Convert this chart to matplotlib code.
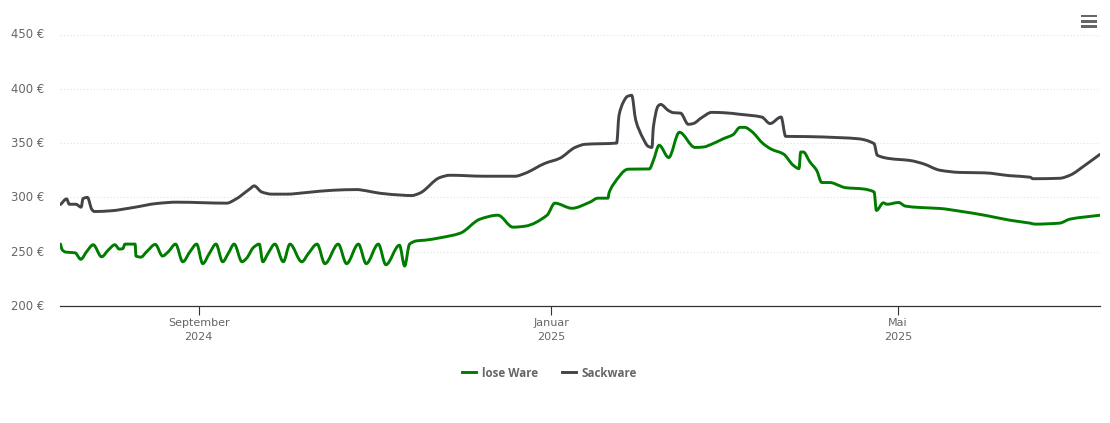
import datetime as dt

import matplotlib
matplotlib.use("Agg")
import matplotlib.pyplot as plt
import matplotlib.dates as mdates
from matplotlib.lines import Line2D
from matplotlib.patches import PathPatch, Rectangle
from matplotlib.path import Path
from matplotlib.transforms import ScaledTranslation
import numpy as np

START = dt.date(2024, 7, 15)

# days since START, price in euro
lose_days = [0.2, 0.7, 2, 5.2, 7.2, 9.2, 11.5, 14.4, 16.7, 19, 20.5, 21.7, 22.5, 26, 26.3, 28,
             30, 33, 35.5, 37.5, 40, 42.5, 45, 47.3, 49.4, 51.7, 54, 56.3, 58.3, 60.3, 63,
             64.6, 67, 69, 70.2, 72, 74.4, 77.3, 79.6, 83.7, 86, 89, 91.7, 96.3, 99.2, 103.3,
             106, 110.2, 112.8, 117.5, 119.3, 121, 123.5, 126.3, 131.5, 138.5, 145.4, 151.6,
             156.8, 161, 168.6, 171.3, 177.2, 183.4, 186.2, 189.7, 190, 191.5, 196.7, 204,
             205.4, 207.4, 210.7, 214.4, 219.8, 222.7, 226, 229.6, 233, 235.4, 237, 239.4,
             243.4, 246.3, 250.4, 253.8, 255.8, 256.4, 257.3, 259.6, 261.9, 263.7, 266.5, 270,
             271.7, 278, 281.8, 282.6, 285, 286.3, 290.3, 292.6, 297.7, 304.6, 311.5, 320,
             328.8, 335.8, 337.5, 346, 349.6, 360]
lose_price = [257, 252, 249.6, 249, 243, 250, 256.4, 245.3, 251.5, 256.4, 252.4, 252.7, 257, 257, 246, 245,
              250, 256.7, 246, 250, 257, 240.7, 250, 257, 239, 248.4, 257, 240.7, 248.7, 257, 240.7,
              244, 254, 257, 240.7, 248.4, 257, 240.7, 257, 240.7, 248.4, 257, 239, 257, 239, 257,
              239, 257, 238, 256, 236.8, 257, 260, 260.6, 262.8, 267, 280, 283.6,
              272.6, 273.5, 283.6, 294.7, 290, 295.6, 299.3, 299.3, 303.6, 311.8, 326, 326.2,
              334, 348, 336.7, 360, 346, 346.4, 349.5, 354, 357.8, 364.5, 364.5, 360.8,
              349.5, 344.3, 340, 329.6, 326.5, 341.8, 341.8, 332.6, 325, 313.7, 313.7, 310.6,
              309, 307.8, 305, 288, 295, 293.7, 295.3, 292, 290.7, 289.8, 287.3, 283.6,
              279, 276.3, 275.4, 276.3, 280, 283.6]

sack_days = [0.2, 2.3, 3.2, 5.5, 7.3, 8, 9.5, 11, 11.9, 17.3, 25.4, 33.5, 40.4, 57.7, 60.6, 65.8,
             67.2, 69.8, 73.3, 78.5, 85.4, 94.6, 102.7, 106.2, 110.8, 118.8, 121.7, 124.6, 131.5,
             135, 147, 157.5, 161, 167.9, 173, 178.3, 181.8, 192.7, 193.5, 195, 196.4, 197.9,
             199.3, 201.9, 203.6, 204.9, 205.4, 207, 207.9, 210.6, 212.3, 214.8, 217.5, 219.2,
             222.1, 225.6, 229.6, 235.4, 242.9, 245.8, 249.6, 251.2, 258.5, 270, 276.3, 281.8,
             282.9, 287.3, 294.2, 298.8, 304.6, 311.5, 320, 328.8, 335.8, 336.8, 346, 349.6, 354.8, 360]
sack_price = [293.5, 298.6, 293.7, 293.7, 291, 299, 300, 289, 287, 287.6, 290.7, 294.4, 295.6, 294.7, 298, 308,
              310.6, 305, 303, 303, 304.5, 306.6, 307.2, 306, 303.8, 302, 301.7, 304, 318.3,
              320.4, 319.5, 319.5, 322.2, 331.4, 336, 346, 348.9, 350, 375.5, 387.7, 393, 394,
              371, 354, 347, 346, 364.8, 384, 385.6, 380, 378, 377.6, 367.3, 368,
              373.4, 378.3, 378, 376.5, 374, 368, 374, 356.2, 356, 355, 354, 349.5,
              338.8, 335.7, 334, 331, 325, 323, 322.6, 320, 318.6, 317.2, 317.6, 320.4, 329.6, 339.7]

y_ticks = [200, 250, 300, 350, 400, 450]
x_ticks = [dt.date(2024, 9, 1), dt.date(2025, 1, 1), dt.date(2025, 5, 1)]
x_labels = ["September\n2024", "Januar\n2025", "Mai\n2025"]

GREEN = "#007d00"
GREY = "#434348"


def to_dates(days):
    return [mdates.date2num(START) + d for d in days]


def spline_path(x, y):
    # bezier segments through the points, flat at each peak so it does not overshoot
    x, y = np.array(x), np.array(y)
    dx = np.diff(x)
    s = np.diff(y) / dx
    m = np.zeros(len(x))
    m[0], m[-1] = s[0], s[-1]
    for i in range(1, len(x) - 1):
        if s[i - 1] * s[i] > 0:
            m[i] = 2 * s[i - 1] * s[i] / (s[i - 1] + s[i])
    verts = [(x[0], y[0])]
    codes = [Path.MOVETO]
    for i in range(len(dx)):
        verts.append((x[i] + dx[i] / 3, y[i] + m[i] * dx[i] / 3))
        verts.append((x[i + 1] - dx[i] / 3, y[i + 1] - m[i + 1] * dx[i] / 3))
        verts.append((x[i + 1], y[i + 1]))
        codes += [Path.CURVE4] * 3
    return Path(verts, codes)


W, H = 1110, 423
fig = plt.figure(figsize=(W / 100, H / 100), dpi=100)
ax = fig.add_axes([60 / W, 1 - 306 / H, 1040 / W, (306 - 34.5) / H])

ax.add_patch(PathPatch(spline_path(to_dates(lose_days), lose_price), fill=False, edgecolor=GREEN, lw=2.1,
                       joinstyle="round", capstyle="round"))
ax.add_patch(PathPatch(spline_path(to_dates(sack_days), sack_price), fill=False, edgecolor=GREY, lw=2.1,
                       joinstyle="round", capstyle="round"))

ax.set_xlim(mdates.date2num(START), mdates.date2num(START) + 360)
ax.set_ylim(200, 450)
ax.set_yticks(y_ticks)
ax.set_yticklabels([f"{v} €" for v in y_ticks])
ax.set_xticks([mdates.date2num(d) for d in x_ticks])
ax.set_xticklabels(x_labels, linespacing=1.55)

for s in ["top", "left", "right"]:
    ax.spines[s].set_visible(False)
ax.spines["bottom"].set_color("#333333")
ax.spines["bottom"].set_linewidth(0.9)

ax.grid(axis="y", color="#e0e0e0", lw=0.8, ls=(0, (1, 2)))
ax.set_axisbelow(True)
ax.tick_params(axis="y", length=0, pad=11, labelsize=8.4, labelcolor="#666666")
ax.tick_params(axis="x", length=6.8, width=0.8, color="#333333", pad=1.5, labelsize=8, labelcolor="#666666")

# y labels sit a pixel above their gridline
up = ScaledTranslation(0, 1.2 / 100, fig.dpi_scale_trans)
for lab in ax.get_yticklabels():
    lab.set_transform(lab.get_transform() + up)

handles = [Line2D([], [], color=GREEN, lw=2.1), Line2D([], [], color=GREY, lw=2.1)]
leg = fig.legend(handles, ["lose Ware", "Sackware"], loc="center", bbox_to_anchor=(549.5 / W, 1 - 373 / H),
                 ncol=2, frameon=False, handlelength=1.2, handletextpad=0.5, columnspacing=2.0,
                 prop={"family": "Open Sans", "weight": "bold", "size": 8.4})
for t in leg.get_texts():
    t.set_color("#666666")

# menu icon in the top right corner
for y in [14.6, 20, 25]:
    fig.add_artist(Rectangle((1081 / W, 1 - (y + 2.8) / H), 16 / W, 2.8 / H, transform=fig.transFigure,
                             facecolor="#666666", edgecolor="none"))

fig.savefig("out.png", dpi=100)
